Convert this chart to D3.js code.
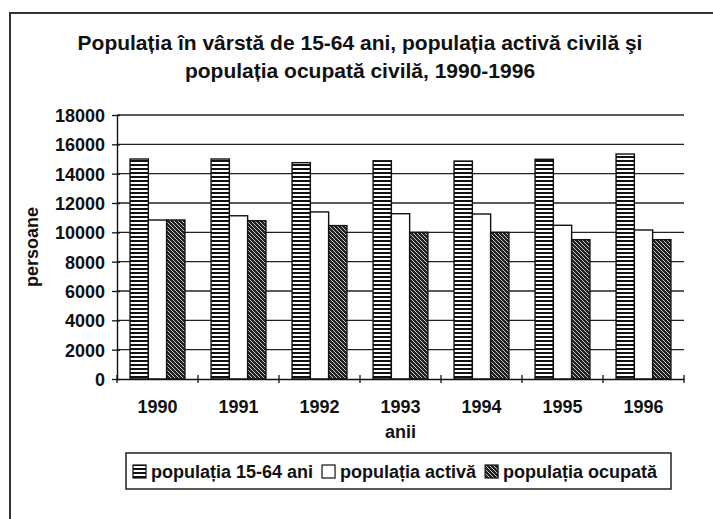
<!DOCTYPE html>
<html>
<head>
<meta charset="utf-8">
<script src="https://cdn.jsdelivr.net/npm/d3@7"></script>
<style>
  body { margin: 0; background: #fff; }
  svg text { font-family: "Liberation Sans", Arial, sans-serif; font-weight: bold; fill: #111; }
</style>
</head>
<body>
<div id="chart"></div>
<script>
// data
const years = ["1990", "1991", "1992", "1993", "1994", "1995", "1996"];
const seriesNames = ["populația 15-64 ani", "populația activă", "populația ocupată"];
const pop1564 = [15000, 15000, 14750, 14880, 14860, 14980, 15340];
const popActiva = [10840, 11130, 11390, 11270, 11250, 10480, 10160];
const popOcupata = [10840, 10790, 10460, 10000, 10000, 9500, 9500];
const yTicks = [0, 2000, 4000, 6000, 8000, 10000, 12000, 14000, 16000, 18000];

const width = 713, height = 519;
const margin = { top: 115, right: 29, bottom: 140, left: 117 };

const svg = d3.select("#chart").append("svg")
    .attr("width", width)
    .attr("height", height);

// outer frame (right and bottom edges fall outside the picture)
svg.append("rect")
    .attr("x", 10).attr("y", 13)
    .attr("width", 712).attr("height", 520)
    .attr("fill", "none")
    .attr("stroke", "#333")
    .attr("stroke-width", 2);

// patterns
const defs = svg.append("defs");
const stripes = defs.append("pattern")
    .attr("id", "stripes")
    .attr("patternUnits", "userSpaceOnUse")
    .attr("width", 4).attr("height", 4);
stripes.append("rect").attr("width", 4).attr("height", 4).attr("fill", "#fff");
stripes.append("rect").attr("y", 0).attr("width", 4).attr("height", 2).attr("fill", "#111");

const hatch = defs.append("pattern")
    .attr("id", "hatch")
    .attr("patternUnits", "userSpaceOnUse")
    .attr("width", 4).attr("height", 4);
hatch.append("rect").attr("width", 4).attr("height", 4).attr("fill", "#222");
hatch.append("path")
    .attr("d", "M-1,-1 L5,5 M-1,3 L1,5 M3,-1 L5,1")
    .attr("stroke", "#ddd")
    .attr("stroke-width", 0.9);

const fills = ["url(#stripes)", "#fff", "url(#hatch)"];
const series = [pop1564, popActiva, popOcupata];

const x = d3.scaleBand()
    .domain(years)
    .range([margin.left, width - margin.right]);

const xInner = d3.scaleBand()
    .domain(d3.range(series.length))
    .range([0, x.bandwidth()])
    .paddingOuter(0.715);

const y = d3.scaleLinear()
    .domain([0, 18000])
    .range([height - margin.bottom, margin.top]);

// gridlines
svg.append("g")
    .selectAll("line")
    .data(yTicks.filter(d => d > 0))
    .join("line")
    .attr("x1", margin.left)
    .attr("x2", width - margin.right)
    .attr("y1", d => y(d))
    .attr("y2", d => y(d))
    .attr("stroke", "#222")
    .attr("stroke-width", 1.3);

// bars
const groups = svg.append("g")
    .selectAll("g")
    .data(years)
    .join("g")
    .attr("transform", d => `translate(${x(d)},0)`);

groups.selectAll("rect")
    .data((yr, i) => series.map((s, k) => ({ k: k, v: s[i] })))
    .join("rect")
    .attr("x", d => xInner(d.k))
    .attr("width", xInner.bandwidth())
    .attr("y", d => y(d.v))
    .attr("height", d => y(0) - y(d.v))
    .attr("fill", d => fills[d.k])
    .attr("stroke", "#111")
    .attr("stroke-width", 1.4);

// axes
const yAxis = svg.append("g")
    .attr("transform", `translate(${margin.left},0)`)
    .call(d3.axisLeft(y).tickValues(yTicks).tickFormat(d3.format("d")).tickSize(5).tickSizeOuter(0));
yAxis.selectAll(".tick line").attr("x2", 3).attr("x1", -5);

const xAxis = svg.append("g")
    .attr("transform", `translate(0,${height - margin.bottom})`)
    .call(d3.axisBottom(x).tickSize(0).tickSizeOuter(0));

// tick marks between categories (crossing the axis)
xAxis.selectAll(".cat-tick")
    .data(years.concat(["end"]))
    .join("line")
    .attr("class", "cat-tick")
    .attr("x1", (d, i) => i < years.length ? x(d) : x(years[years.length - 1]) + x.bandwidth())
    .attr("x2", (d, i) => i < years.length ? x(d) : x(years[years.length - 1]) + x.bandwidth())
    .attr("y1", -4).attr("y2", 4)
    .attr("stroke", "#111")
    .attr("stroke-width", 1.3);

[yAxis, xAxis].forEach(a => {
    a.select(".domain").attr("stroke", "#111").attr("stroke-width", 1.4);
    a.selectAll(".tick line").attr("stroke", "#111").attr("stroke-width", 1.3);
    a.selectAll("text")
        .style("font-family", '"Liberation Sans", Arial, sans-serif')
        .style("font-weight", "bold")
        .style("font-size", "18px")
        .attr("fill", "#111");
});
yAxis.selectAll(".tick text").attr("x", -12).attr("dy", "0.36em");
xAxis.selectAll(".tick text").attr("y", 34).attr("dy", 0);

// title
const title = svg.append("text")
    .attr("text-anchor", "middle")
    .style("font-size", "21px");
title.append("tspan").attr("x", 360).attr("y", 50)
    .text("Populația în vârstă de 15-64 ani, populația activă civilă şi");
title.append("tspan").attr("x", 360).attr("y", 78)
    .text("populația ocupată civilă, 1990-1996");

// axis titles
svg.append("text")
    .attr("transform", `translate(38,${(margin.top + height - margin.bottom) / 2}) rotate(-90)`)
    .attr("text-anchor", "middle")
    .style("font-size", "18px")
    .text("persoane");

svg.append("text")
    .attr("x", (margin.left + width - margin.right) / 2)
    .attr("y", 438)
    .attr("text-anchor", "middle")
    .style("font-size", "18px")
    .text("anii");

// legend
const legend = svg.append("g");
legend.append("rect")
    .attr("x", 126).attr("y", 453)
    .attr("width", 545).attr("height", 36)
    .attr("fill", "#fff")
    .attr("stroke", "#222")
    .attr("stroke-width", 1.5);

let lx = 133;
seriesNames.forEach((name, k) => {
    legend.append("rect")
        .attr("x", lx).attr("y", 465)
        .attr("width", 13).attr("height", 13)
        .attr("fill", fills[k])
        .attr("stroke", "#111")
        .attr("stroke-width", 1.2);
    const t = legend.append("text")
        .attr("x", lx + 18).attr("y", 478)
        .style("font-size", "18px")
        .text(name);
    lx += 18 + t.node().getComputedTextLength() + 9;
});
</script>
</body>
</html>
